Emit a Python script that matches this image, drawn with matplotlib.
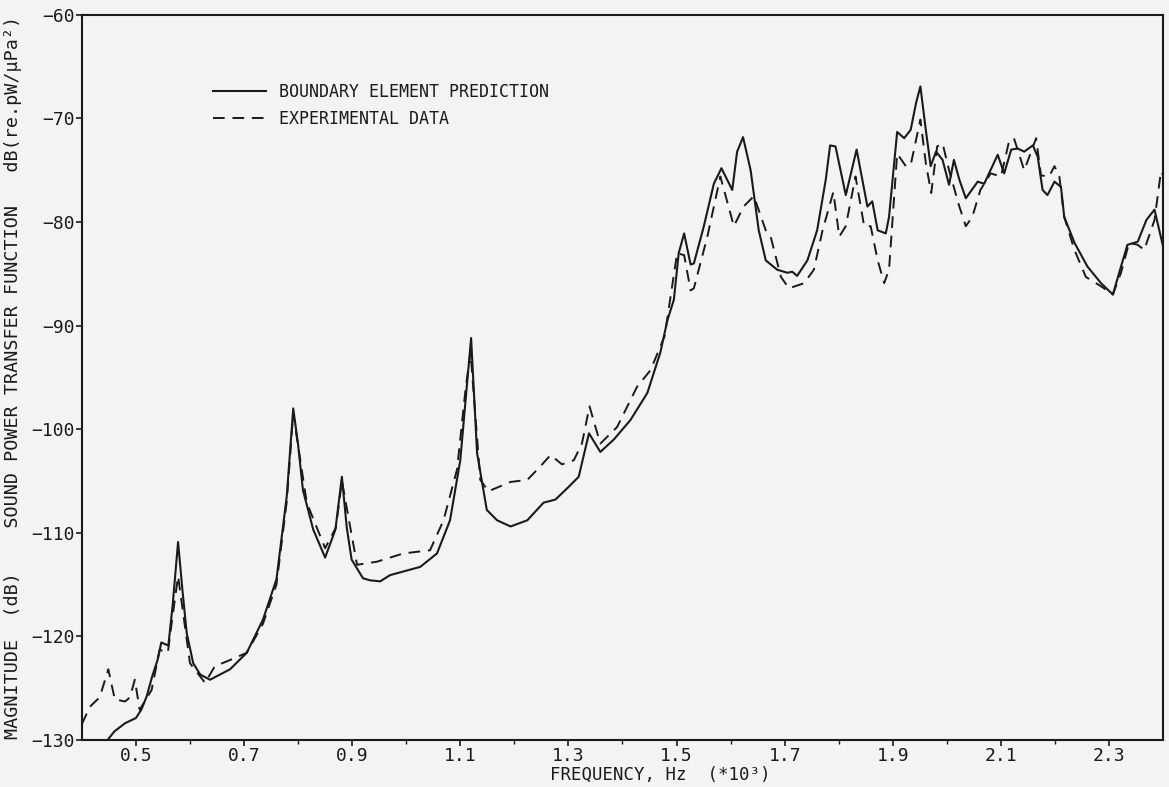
import numpy as np
from matplotlib import pyplot as plt

# Boundary element prediction (frequency in kHz, dB)
bem_f = [0.448, 0.46, 0.48, 0.50, 0.51, 0.52, 0.53, 0.54, 0.547, 0.56, 0.568, 0.578, 0.586, 0.594,
         0.606, 0.619, 0.637, 0.674, 0.705, 0.735, 0.760, 0.779, 0.791, 0.800, 0.809, 0.828,
         0.850, 0.869, 0.881, 0.890, 0.899, 0.920, 0.933, 0.952, 0.970, 1.026, 1.057, 1.081,
         1.100, 1.112, 1.120, 1.131, 1.149, 1.168, 1.193, 1.224, 1.254, 1.276, 1.298, 1.319,
         1.338, 1.359, 1.384, 1.415, 1.446, 1.470, 1.483, 1.495, 1.504, 1.514, 1.526, 1.532,
         1.550, 1.569, 1.583, 1.603, 1.612, 1.623, 1.637, 1.652, 1.665, 1.686, 1.705, 1.714,
         1.723, 1.742, 1.760, 1.776, 1.784, 1.794, 1.813, 1.833, 1.853, 1.862, 1.872, 1.887,
         1.893, 1.908, 1.921, 1.933, 1.943, 1.951, 1.961, 1.970, 1.980, 1.992, 2.004, 2.013,
         2.023, 2.035, 2.057, 2.069, 2.094, 2.106, 2.119, 2.131, 2.143, 2.159, 2.168, 2.177,
         2.186, 2.199, 2.211, 2.217, 2.236, 2.260, 2.285, 2.307, 2.322, 2.334, 2.353, 2.369,
         2.384, 2.400]
bem_db = [-130.0, -129.2, -128.4, -127.9, -127.1, -125.8, -123.9, -122.3, -120.6, -120.9, -117.0,
          -110.9, -115.5, -119.7, -122.6, -123.7, -124.2, -123.2, -121.6, -118.4, -114.5,
          -106.5, -98.0, -101.5, -105.9, -109.7, -112.4, -109.7, -104.6, -109.5, -112.6,
          -114.4, -114.6, -114.7, -114.1, -113.3, -112.0, -108.8, -103.0, -95.9, -91.2,
          -102.3, -107.8, -108.8, -109.4, -108.8, -107.1, -106.8, -105.7, -104.6, -100.4,
          -102.2, -101.0, -99.1, -96.5, -92.6, -89.5, -87.5, -83.0, -81.1, -84.1, -84.0,
          -80.5, -76.3, -74.8, -76.9, -73.2, -71.8, -75.0, -80.8, -83.7, -84.6, -84.9, -84.8,
          -85.2, -83.7, -80.8, -75.9, -72.6, -72.7, -77.4, -73.0, -78.5, -78.0, -80.8, -81.1,
          -79.5, -71.3, -71.9, -71.1, -68.5, -66.9, -71.1, -74.6, -73.2, -74.0, -76.4, -74.0,
          -75.9, -77.7, -76.1, -76.3, -73.5, -75.3, -73.0, -72.9, -73.2, -72.6, -73.7, -76.9,
          -77.4, -76.1, -76.6, -79.5, -82.0, -84.3, -85.9, -87.0, -84.3, -82.2, -81.9, -79.8,
          -78.8, -82.4]

# Experimental data
exp_f = [0.400, 0.415, 0.433, 0.449, 0.461, 0.480, 0.489, 0.498, 0.507, 0.529, 0.544, 0.559,
         0.568, 0.578, 0.588, 0.600, 0.628, 0.646, 0.674, 0.705, 0.735, 0.760, 0.779, 0.791,
         0.816, 0.850, 0.870, 0.881, 0.909, 0.946, 0.995, 1.044, 1.069, 1.094, 1.110, 1.119,
         1.137, 1.152, 1.193, 1.224, 1.248, 1.267, 1.288, 1.310, 1.325, 1.339, 1.359, 1.390,
         1.427, 1.452, 1.478, 1.501, 1.514, 1.526, 1.532, 1.557, 1.581, 1.606, 1.624, 1.643,
         1.665, 1.674, 1.693, 1.708, 1.736, 1.754, 1.770, 1.790, 1.801, 1.813, 1.831, 1.847,
         1.859, 1.872, 1.884, 1.893, 1.908, 1.924, 1.933, 1.951, 1.961, 1.971, 1.982, 1.992,
         2.004, 2.023, 2.035, 2.047, 2.062, 2.081, 2.100, 2.115, 2.124, 2.143, 2.156, 2.165,
         2.174, 2.189, 2.199, 2.208, 2.217, 2.236, 2.257, 2.285, 2.307, 2.322, 2.337, 2.353,
         2.365, 2.384, 2.396, 2.400]
exp_db = [-128.5, -126.8, -125.9, -123.2, -126.1, -126.3, -125.9, -124.2, -127.1, -125.2,
          -121.3, -121.6, -118.0, -114.2, -118.0, -122.6, -124.5, -122.9, -122.3, -121.6,
          -118.8, -115.0, -107.0, -98.5, -107.1, -111.5, -109.5, -105.0, -113.1, -112.8,
          -112.0, -111.7, -108.8, -103.9, -96.0, -92.6, -104.9, -106.0, -105.1, -104.9,
          -103.6, -102.5, -103.4, -103.0, -101.4, -97.8, -101.4, -99.8, -95.9, -94.3, -91.0,
          -83.0, -83.2, -86.6, -86.4, -81.4, -75.6, -80.4, -78.5, -77.5, -80.8, -81.4, -85.3,
          -86.4, -85.9, -84.6, -80.8, -77.1, -81.4, -80.4, -75.6, -80.4, -80.4, -83.7, -85.9,
          -84.6, -73.4, -74.6, -74.5, -70.1, -74.3, -77.2, -72.7, -72.4, -75.0, -78.5, -80.4,
          -79.5, -76.9, -75.3, -75.6, -72.2, -71.9, -75.0, -73.2, -71.9, -75.5, -75.6, -74.6,
          -75.6, -79.5, -82.7, -85.3, -86.2, -87.0, -84.9, -82.0, -82.2, -82.7, -79.8, -75.1,
          -75.5]

major_ticks = [0.5, 0.7, 0.9, 1.1, 1.3, 1.5, 1.7, 1.9, 2.1, 2.3]
minor_ticks = [0.6, 0.8, 1.0, 1.2, 1.4, 1.6, 1.8, 2.0, 2.2]
y_ticks = [-130, -120, -110, -100, -90, -80, -70, -60]

bg = '#f3f3f3'
ink = '#1a1a1a'
plt.rcParams['font.family'] = ['DejaVu Sans Mono', 'DejaVu Sans']

fig = plt.figure(figsize=(11.69, 7.87), dpi=100, facecolor=bg)
ax = fig.add_axes([0.070, 0.060, 0.925, 0.921], facecolor=bg)

ax.plot(bem_f, bem_db, color=ink, lw=1.5, label='BOUNDARY ELEMENT PREDICTION')
ax.plot(exp_f, exp_db, color=ink, lw=1.4, dashes=(6, 4), label='EXPERIMENTAL DATA')

ax.set_xlim(0.4, 2.4)
ax.set_ylim(-130, -60)
ax.set_xticks(major_ticks)
ax.set_xticklabels([f'{t:.1f}' for t in major_ticks])
ax.set_xticks(minor_ticks, minor=True)
ax.set_yticks(y_ticks)
ax.tick_params(axis='both', which='major', labelsize=13, length=4, width=1.2, colors=ink, pad=1)
ax.tick_params(axis='x', which='minor', length=3, width=1.0, colors=ink)
for s in ax.spines.values():
    s.set_color(ink)
    s.set_linewidth(1.5)

ax.set_xlabel('FREQUENCY, Hz  (*10³)', fontsize=12.5, color=ink)
ax.xaxis.set_label_coords(0.535, -0.036)
ax.set_ylabel('MAGNITUDE  (dB)    SOUND POWER TRANSFER FUNCTION   dB(re.pW/μPa²)',
              fontsize=13.2, color=ink)
ax.yaxis.set_label_coords(-0.055, 0.5)

ax.legend(loc='upper left', bbox_to_anchor=(0.107, 0.927), frameon=False, fontsize=12,
          handlelength=3.2, handletextpad=0.8, labelspacing=0.55, labelcolor=ink)

fig.savefig('out.png', dpi=100, facecolor=bg)
